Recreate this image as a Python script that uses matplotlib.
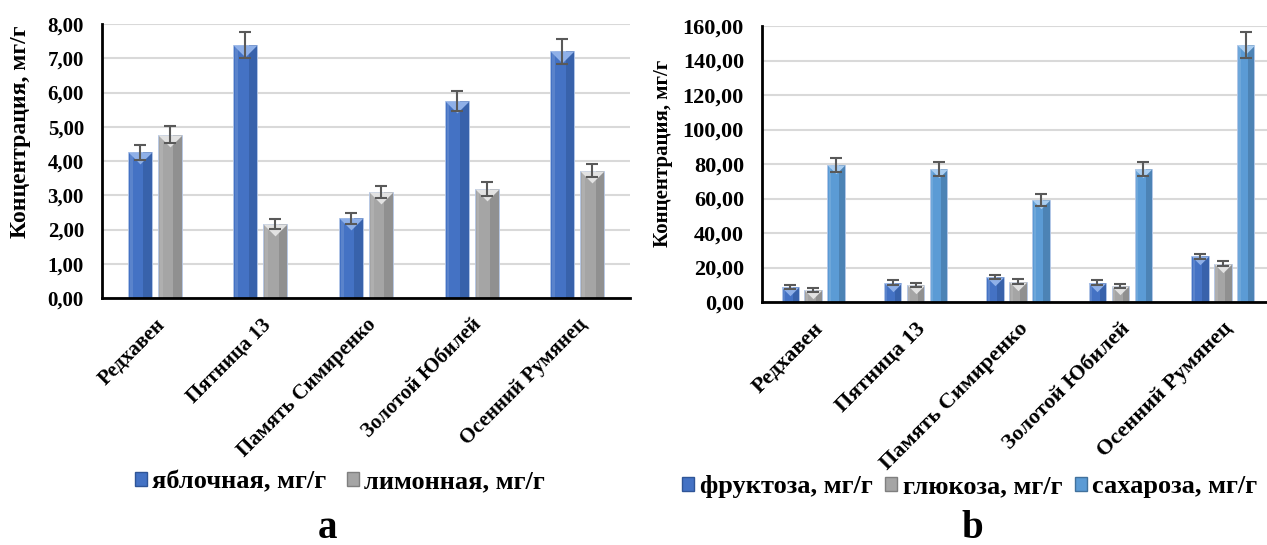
import numpy as np
import matplotlib.pyplot as plt
from matplotlib.patches import Patch

plt.rcParams['font.family'] = ['Liberation Serif', 'DejaVu Serif']
plt.rcParams['font.weight'] = 'bold'

varieties = ['Редхавен', 'Пятница 13', 'Память Симиренко', 'Золотой Юбилей', 'Осенний Румянец']

# organic acids, mg/g
malic = [4.25, 7.39, 2.33, 5.74, 7.20]
malic_err = [0.22, 0.37, 0.16, 0.29, 0.36]
citric = [4.77, 2.16, 3.09, 3.19, 3.72]
citric_err = [0.25, 0.15, 0.17, 0.20, 0.20]

# sugars, mg/g
fructose = [8.7, 11.2, 14.5, 11.1, 26.4]
fructose_err = [1.0, 1.3, 1.4, 1.4, 1.7]
glucose = [6.8, 9.9, 11.8, 9.3, 22.3]
glucose_err = [1.2, 1.3, 1.5, 1.4, 1.7]
sucrose = [79.5, 77.2, 59.2, 77.2, 149.0]
sucrose_err = [4.0, 3.9, 3.4, 4.0, 7.4]

acid_labels = ['яблочная, мг/г', 'лимонная, мг/г']
sugar_labels = ['фруктоза, мг/г', 'глюкоза, мг/г', 'сахароза, мг/г']

# (main, dark side, light top) for each fill
BLUE = ('#4472C4', '#2F5597', '#8FB0E8')
GRAY = ('#A5A5A5', '#7F7F7F', '#E2E2E2')
SKY = ('#5B9BD5', '#41719C', '#A9CDF0')


def bevel_bar(ax, x, vals, errs, w, cols, fig_w_px):
    main, dark, light = cols
    ax.bar(x, vals, w, color=main, edgecolor='#B4C7E7', linewidth=0.6, zorder=3)
    ax.bar(x + w * 0.32, vals, w * 0.36, color=dark, alpha=0.55, linewidth=0, zorder=3)
    ax.bar(x - w * 0.36, vals, w * 0.12, color='white', alpha=0.12, linewidth=0, zorder=3)
    # triangle highlight at the top of each bar
    xl = ax.get_xlim()
    px_per_unit = ax.get_position().width * fig_w_px / (xl[1] - xl[0])
    ms = w * px_per_unit * 72 / 100
    ax.plot(x, vals, ls='none', marker=[(-1, 0), (1, 0), (0, -1), (-1, 0)],
            ms=ms, color=light, mew=0, zorder=4)
    ax.errorbar(x, vals, yerr=errs, fmt='none', ecolor='#595959',
                elinewidth=1.5, capsize=4, capthick=1.5, zorder=5)


def style_axes(ax, ymax, step, fs):
    ax.set_ylim(0, ymax)
    ax.set_yticks(np.arange(0, ymax + step / 2, step))
    ax.set_yticklabels([f'{v:.2f}'.replace('.', ',') for v in np.arange(0, ymax + step / 2, step)],
                       fontsize=fs, fontweight='bold')
    ax.grid(axis='y', color='#D9D9D9', linewidth=1.5, zorder=0)
    ax.set_axisbelow(True)
    for s in ['top', 'right']:
        ax.spines[s].set_visible(False)
    ax.spines['left'].set_linewidth(2)
    ax.spines['bottom'].set_linewidth(2)
    ax.spines['bottom'].set_zorder(6)
    ax.tick_params(length=0, pad=13)
    ax.tick_params(axis='x', pad=12)
    ax.set_xticks(range(len(varieties)))
    ax.set_xticklabels(varieties, rotation=45, ha='right', rotation_mode='anchor',
                       fontsize=fs, fontweight='bold')


W, H = 1267, 545
fig = plt.figure(figsize=(W / 100, H / 100), dpi=100)
x = np.arange(len(varieties))
leg_kw = dict(loc='center', frameon=False, prop={'size': 19, 'weight': 'bold'},
              handlelength=0.45, handleheight=0.45, handletextpad=0.2)

# panel a
ax1 = fig.add_axes([102 / W, 1 - 298 / H, 528 / W, 274 / H])
ax1.set_xlim(-0.5, 4.5)
style_axes(ax1, 8, 1, 15)
bevel_bar(ax1, x - 0.142, malic, malic_err, 0.226, BLUE, W)
bevel_bar(ax1, x + 0.142, citric, citric_err, 0.226, GRAY, W)
fig.text(21 / W, 1 - 132 / H, 'Концентрация, мг/г', rotation=90, ha='center', va='center',
         fontsize=17, fontweight='bold')
fig.legend([Patch(facecolor=BLUE[0], edgecolor=BLUE[1]), Patch(facecolor=GRAY[0], edgecolor=GRAY[1])],
           acid_labels, bbox_to_anchor=(340 / W, 1 - 482 / H), ncol=2, columnspacing=0.8, **leg_kw)
fig.text(328 / W, 1 - 538 / H, 'a', ha='center', va='baseline', fontsize=28, fontweight='bold')

# panel b
ax2 = fig.add_axes([762 / W, 1 - 302 / H, 512 / W, 276 / H])
ax2.set_xlim(-0.5, 4.5)
style_axes(ax2, 160, 20, 16)
bevel_bar(ax2, x - 0.224, fructose, fructose_err, 0.17, BLUE, W)
bevel_bar(ax2, x, glucose, glucose_err, 0.17, GRAY, W)
bevel_bar(ax2, x + 0.224, sucrose, sucrose_err, 0.17, SKY, W)
fig.text(663 / W, 1 - 153 / H, 'Концентрация, мг/г', rotation=90, ha='center', va='center',
         fontsize=15, fontweight='bold')
fig.legend([Patch(facecolor=c[0], edgecolor=c[1]) for c in (BLUE, GRAY, SKY)],
           sugar_labels, bbox_to_anchor=(970 / W, 1 - 487 / H), ncol=3, columnspacing=0.5, **leg_kw)
fig.text(972 / W, 1 - 538 / H, 'b', ha='center', va='baseline', fontsize=28, fontweight='bold')

fig.savefig('out.png', dpi=100)
plt.close('all')
